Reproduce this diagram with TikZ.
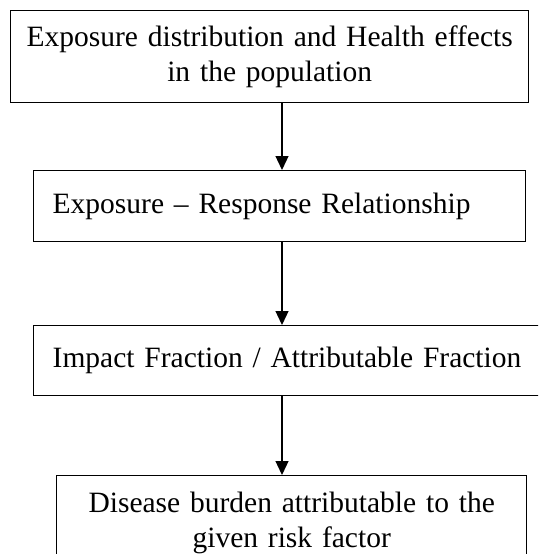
\documentclass[tikz,border=0pt]{standalone}
\usepackage{fontspec}
\setmainfont[WordSpace=0.8]{Liberation Serif}
\usetikzlibrary{arrows.meta}
\begin{document}
\begin{tikzpicture}[x=1pt, y=-1pt,
    box/.style={draw, line width=1.4pt, rectangle, anchor=north west,
                font=\fontsize{29.5}{35}\selectfont},
    flow/.style={line width=1.3pt, -{Triangle[length=14pt, width=13pt]}}]
      \useasboundingbox (0, 0) rectangle (538, 554);
      \clip (0, 0) rectangle (538, 554);
      \node (expo) [box, minimum width=518pt, minimum height=92pt,
                    text width=500pt, align=center] at (10, 10)
            {Exposure distribution and Health effects\\in the population};
      \node (resp) [box, minimum width=492pt, minimum height=71pt,
                    text width=454pt, inner xsep=19pt, align=left] at (33, 170)
            {Exposure – Response Relationship};
      \node (frac) [box, minimum width=530pt, minimum height=70pt,
                    text width=492pt, inner xsep=19pt, align=left] at (33, 325)
            {Impact Fraction / Attributable Fraction};
      \node (burden) [box, minimum width=470pt, minimum height=94pt,
                      text width=450pt, align=center] at (56, 475)
            {Disease burden attributable to the\\given risk factor};
      \coordinate (col) at (282, 0);
      \path (expo.south -| col) edge[flow] (resp.north -| col)
            (resp.south -| col) edge[flow] (frac.north -| col)
            (frac.south -| col) edge[flow] (burden.north -| col);
\end{tikzpicture}
\end{document}
